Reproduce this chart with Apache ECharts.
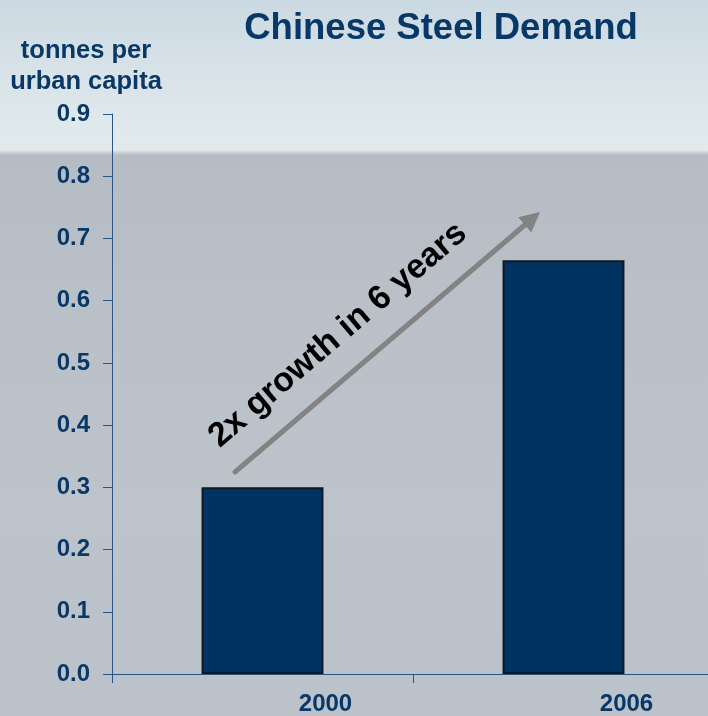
<!DOCTYPE html>
<html>
<head>
<meta charset="utf-8">
<script src="https://cdn.jsdelivr.net/npm/echarts@6/dist/echarts.min.js"></script>
<style>
  html, body { margin: 0; padding: 0; overflow: hidden; }
  body {
    width: 708px; height: 716px;
    background: linear-gradient(to bottom,
      #cbd9e2 0px, #d6e1e7 60px, #dfe8eb 120px, #e2eaec 150px,
      #b5bcc3 155px, #b9c0c7 300px, #bcc3ca 500px, #bbc2c9 716px);
  }
  /* the plot area runs slightly past the right edge of the page */
  #chart { width: 714px; height: 716px; }
</style>
</head>
<body>
<div id="chart"></div>
<script>
// Steel demand per urban capita, tonnes
const years = ['2000', '2006'];
const demand = [0.30, 0.665];
const yTicks = { min: 0, max: 0.9, step: 0.1 };
const titleText = 'Chinese Steel Demand';
const unitText = 'tonnes per\nurban capita';
const noteText = '2x growth in 6 years';

const navy = '#083868';
const font = 'Arial, "Liberation Sans", sans-serif';

const chart = echarts.init(document.getElementById('chart'));

// growth arrow: shaft plus a filled head
const a0 = [235, 472], a1 = [540, 212];
const ang = Math.atan2(a1[1] - a0[1], a1[0] - a0[0]);
const headLen = 20, headHalf = 10;
const ux = Math.cos(ang), uy = Math.sin(ang);
const base = [a1[0] - ux * headLen, a1[1] - uy * headLen];
const head = [
  a1,
  [base[0] - uy * headHalf, base[1] + ux * headHalf],
  [base[0] + uy * headHalf, base[1] - ux * headHalf]
];

chart.setOption({
  animation: false,
  backgroundColor: 'transparent',
  title: {
    text: titleText,
    left: 436, top: 5,
    textAlign: 'center',
    textStyle: { fontFamily: font, fontSize: 36.5, fontWeight: 'bold', color: navy }
  },
  grid: { left: 112, right: 0, top: 114, bottom: 41, containLabel: false },
  xAxis: {
    type: 'category',
    data: years,
    axisLine: { lineStyle: { color: '#2c5585', width: 1 } },
    axisTick: { show: true, length: 9, alignWithLabel: false, lineStyle: { color: '#2c5585' } },
    axisLabel: {
      margin: 18,
      padding: [0, 0, 0, 126],
      fontFamily: font, fontSize: 24, fontWeight: 'bold', color: navy
    }
  },
  yAxis: {
    type: 'value',
    min: yTicks.min, max: yTicks.max, interval: yTicks.step,
    name: unitText,
    nameLocation: 'end',
    nameGap: 17,
    nameTextStyle: {
      fontFamily: font, fontSize: 25.5, fontWeight: 'bold', color: navy,
      align: 'center', lineHeight: 31, padding: [0, 52, 0, 0]
    },
    splitLine: { show: false },
    axisLine: { show: true, lineStyle: { color: '#2c5585', width: 1 } },
    axisTick: { show: true, length: 9, lineStyle: { color: '#2c5585' } },
    axisLabel: {
      margin: 22,
      formatter: v => v.toFixed(1),
      fontFamily: font, fontSize: 24, fontWeight: 'bold', color: navy
    }
  },
  series: [{
    type: 'bar',
    data: demand,
    barWidth: '40.5%',
    itemStyle: { color: '#003262', borderColor: '#101820', borderWidth: 2 }
  }],
  graphic: [
    {
      type: 'line',
      shape: { x1: a0[0], y1: a0[1], x2: base[0], y2: base[1] },
      style: { stroke: '#838383', lineWidth: 5, lineCap: 'round' },
      z: 10
    },
    {
      type: 'polygon',
      shape: { points: head },
      style: { fill: '#838383' },
      z: 10
    },
    {
      type: 'text',
      x: 338, y: 335,
      rotation: -ang,
      style: {
        text: noteText,
        align: 'center', verticalAlign: 'middle',
        font: 'bold 34px ' + font,
        fill: '#000000'
      },
      z: 10
    }
  ]
});
</script>
</body>
</html>
